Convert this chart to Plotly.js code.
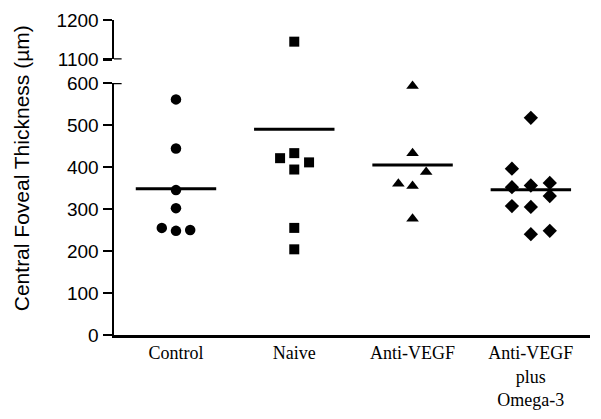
<!DOCTYPE html>
<html>
<head>
<meta charset="utf-8">
<script src="https://cdn.plot.ly/plotly-3.0.1.min.js"></script>
<style>html,body{margin:0;padding:0;background:#fff;}#chart{width:601px;height:419px;}</style>
</head>
<body>
<div id="chart"></div>
<script>
// Data
const categories = ["Control", "Naive", "Anti-VEGF", "Anti-VEGF<br>plus<br>Omega-3"];
const controlValues = [561, 444, 345, 302, 255, 248, 250];
const controlJitter = [0, 0, 0, 0, -0.12, 0, 0.12];
const naiveValues = [1145, 433, 421, 411, 394, 255, 204];
const naiveJitter = [0, 0, -0.12, 0.125, 0, 0, 0];
const antiVegfValues = [593, 433, 388, 360, 355, 277];
const antiVegfJitter = [0, 0, 0.115, -0.12, 0, 0];
const omegaValues = [517, 396, 352, 356, 362, 331, 307, 305, 240, 248];
const omegaJitter = [-0.00, -0.16, -0.16, 0, 0.16, 0.16, -0.16, 0, 0, 0.16];
const groupMeans = [348, 490, 405, 346];

const groups = [
  {vals: controlValues, jit: controlJitter, symbol: "circle", size: 10.5},
  {vals: naiveValues, jit: naiveJitter, symbol: "square", size: 10},
  {vals: antiVegfValues, jit: antiVegfJitter, symbol: "triangle-up", size: 11},
  {vals: omegaValues, jit: omegaJitter, symbol: "diamond", size: 11}
];

const traces = [];
groups.forEach((g, i) => {
  const pos = i + 1;
  const low = {x: [], y: []}, high = {x: [], y: []};
  g.vals.forEach((v, k) => {
    const tgt = v > 600 ? high : low;
    tgt.x.push(pos + g.jit[k]);
    tgt.y.push(v);
  });
  const mk = {symbol: g.symbol, size: g.size, color: "#000"};
  traces.push({type: "scatter", mode: "markers", x: low.x, y: low.y, marker: mk, xaxis: "x", yaxis: "y", hoverinfo: "y", cliponaxis: false});
  if (high.x.length) {
    traces.push({type: "scatter", mode: "markers", x: high.x, y: high.y, marker: mk, xaxis: "x", yaxis: "y2", hoverinfo: "y", cliponaxis: false});
  }
  traces.push({type: "scatter", mode: "lines", x: [pos - 0.34, pos + 0.34], y: [groupMeans[i], groupMeans[i]],
    line: {color: "#000", width: 3}, xaxis: "x", yaxis: "y", hoverinfo: "skip"});
});

const layout = {
  width: 601, height: 419,
  margin: {l: 114, r: 11, t: 20, b: 84},
  paper_bgcolor: "#fff", plot_bgcolor: "#fff",
  showlegend: false,
  xaxis: {
    range: [0.476, 4.5],
    tickvals: [1, 2, 3, 4], ticktext: categories,
    showline: true, linecolor: "#000", linewidth: 2.5,
    ticks: "", showgrid: false, zeroline: false,
    tickfont: {family: "Liberation Serif, Times New Roman, serif", size: 18, color: "#000"},
    anchor: "y", fixedrange: true
  },
  yaxis: {
    domain: [0, 0.8], range: [0, 600], dtick: 100, tick0: 0,
    showline: true, linecolor: "#000", linewidth: 2.5,
    ticks: "outside", ticklen: 9, tickwidth: 2.5, tickcolor: "#000",
    showgrid: false, zeroline: false,
    tickfont: {family: "Liberation Sans, Arial, sans-serif", size: 19, color: "#000"},
    anchor: "x", fixedrange: true
  },
  yaxis2: {
    domain: [0.875, 1], range: [1100, 1200], tickvals: [1100, 1200],
    showline: true, linecolor: "#000", linewidth: 2.5,
    ticks: "outside", ticklen: 9, tickwidth: 2.5, tickcolor: "#000",
    showgrid: false, zeroline: false,
    tickfont: {family: "Liberation Sans, Arial, sans-serif", size: 19, color: "#000"},
    anchor: "x", fixedrange: true
  },
  shapes: [
    {type: "line", xref: "paper", x0: 0, x1: 0.016, yref: "y2", y0: 1100, y1: 1100, line: {color: "#000", width: 2.5}},
    {type: "line", xref: "paper", x0: 0, x1: 0.016, yref: "y", y0: 600, y1: 600, line: {color: "#000", width: 2.5}}
  ],
  annotations: [
    {text: "Central Foveal Thickness (µm)", xref: "paper", yref: "paper",
     x: -0.195, y: 0.53, xanchor: "center", yanchor: "middle", textangle: -90, showarrow: false,
     font: {family: "Liberation Sans, Arial, sans-serif", size: 21, color: "#000"}}
  ]
};

Plotly.newPlot("chart", traces, layout, {displayModeBar: false, staticPlot: true});
</script>
</body>
</html>
